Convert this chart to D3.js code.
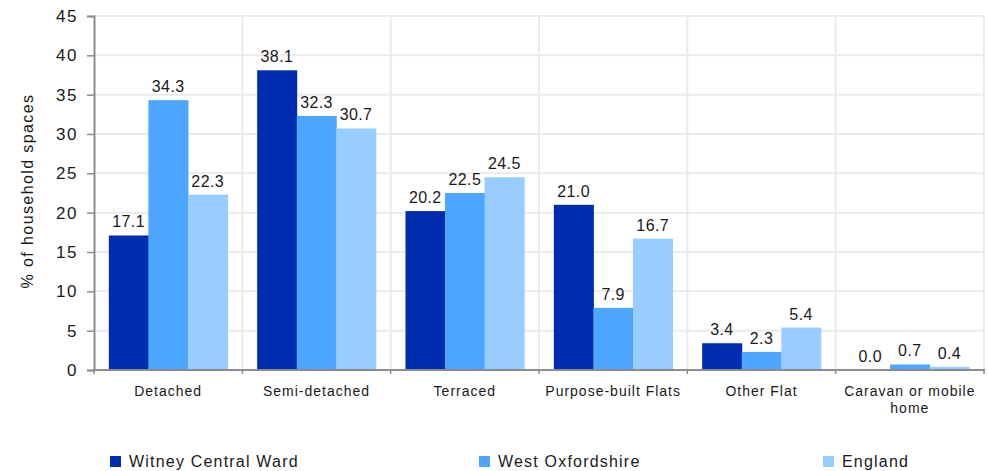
<!DOCTYPE html>
<html><head><meta charset="utf-8">
<script src="https://cdn.jsdelivr.net/npm/d3@7"></script>
<style>
body{margin:0;background:#fff;}
text{font-family:"Liberation Sans",Arial,sans-serif;fill:#1a1a1a;}
</style></head>
<body><svg id="c" width="988" height="471"></svg>
<script>
const categories = ["Detached","Semi-detached","Terraced","Purpose-built Flats","Other Flat","Caravan or mobile home"];
const seriesNames = ["Witney Central Ward","West Oxfordshire","England"];
const witney = [17.1,38.1,20.2,21.0,3.4,0.0];
const westOx = [34.3,32.3,22.5,7.9,2.3,0.7];
const england = [22.3,30.7,24.5,16.7,5.4,0.4];
const yTicks = [0,5,10,15,20,25,30,35,40,45];
const colors = ["#002db0","#4da6ff","#99ccff"];
const series = [witney,westOx,england];

const svg = d3.select("#c");
const L=94,R=984,T=16,B=370;
const x = d3.scaleBand().domain(categories).range([L,R]).paddingInner(0.2).paddingOuter(0.1);
const xs = d3.scaleBand().domain(seriesNames).range([0,x.bandwidth()]);
const y = d3.scaleLinear().domain([0,45]).range([B,T]);
const step = (R-L)/categories.length;

// grid
const g = svg.append("g");
g.selectAll("line.h").data(yTicks.slice(1)).enter().append("line")
 .attr("x1",L).attr("x2",R).attr("y1",d=>y(d)).attr("y2",d=>y(d))
 .attr("stroke","#ebebeb").attr("stroke-width",2);
g.selectAll("line.v").data(d3.range(1,categories.length+1)).enter().append("line")
 .attr("x1",i=>L+i*step).attr("x2",i=>L+i*step).attr("y1",T).attr("y2",B)
 .attr("stroke","#ebebeb").attr("stroke-width",2);

// bars
series.forEach((s,si)=>{
  svg.append("g").selectAll("rect").data(s).enter().append("rect")
   .attr("x",(d,i)=>x(categories[i])+xs(seriesNames[si]))
   .attr("width",xs.bandwidth()+0.5)
   .attr("y",d=>y(d)).attr("height",d=>B-y(d))
   .attr("fill",colors[si]);
  svg.append("g").selectAll("text").data(s).enter().append("text")
   .attr("x",(d,i)=>x(categories[i])+xs(seriesNames[si])+xs.bandwidth()/2)
   .attr("y",d=>y(d)-8).attr("text-anchor","middle").attr("font-size",16)
   .attr("letter-spacing",0.4)
   .text(d=>d.toFixed(1));
});

// y axis
const ya = svg.append("g").attr("transform",`translate(${L},0)`)
 .call(d3.axisLeft(y).tickValues(yTicks).tickSize(7).tickPadding(9).tickFormat(d3.format("d")));
ya.select(".domain").attr("stroke","#8c8c8c").attr("stroke-width",2);
ya.selectAll(".tick line").attr("stroke","#8c8c8c").attr("stroke-width",1.5);
ya.selectAll("text").attr("font-size",17).attr("letter-spacing",1.5).attr("fill","#1a1a1a")
 .attr("font-family","Liberation Sans, Arial, sans-serif");

// x axis line and ticks
svg.append("line").attr("x1",L-1).attr("x2",R+1).attr("y1",B).attr("y2",B).attr("stroke","#8c8c8c").attr("stroke-width",2);
svg.selectAll("line.xt").data(d3.range(0,categories.length+1)).enter().append("line")
 .attr("x1",i=>L+i*step).attr("x2",i=>L+i*step).attr("y1",B).attr("y2",B+4)
 .attr("stroke","#8c8c8c").attr("stroke-width",1.5);

// category labels
const catLines = {"Caravan or mobile home":["Caravan or mobile","home"]};
categories.forEach(c=>{
  const lines = catLines[c]||[c];
  const t = svg.append("text").attr("x",x(c)+x.bandwidth()/2).attr("y",396)
   .attr("text-anchor","middle").attr("font-size",14).attr("letter-spacing",1);
  lines.forEach((ln,i)=>t.append("tspan").attr("x",x(c)+x.bandwidth()/2).attr("dy",i?17:0).text(ln));
});

// y title
svg.append("text").attr("transform","translate(33,191) rotate(-90)").attr("text-anchor","middle")
 .attr("font-size",16).attr("letter-spacing",1.4).text("% of household spaces");

// legend
const legX = [110,479,823];
seriesNames.forEach((n,i)=>{
  svg.append("rect").attr("x",legX[i]).attr("y",456).attr("width",11).attr("height",11).attr("fill",colors[i]);
  svg.append("text").attr("x",legX[i]+19).attr("y",467).attr("font-size",16).attr("letter-spacing",1.2).text(n);
});
</script></body></html>
